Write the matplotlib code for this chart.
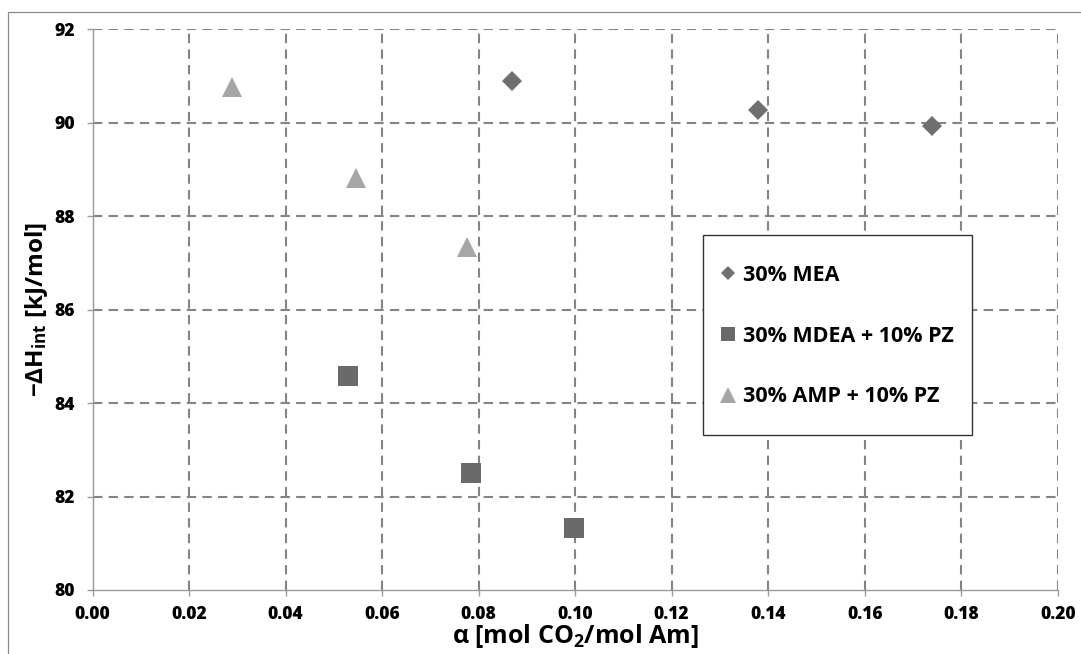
import matplotlib
matplotlib.use('Agg')
import matplotlib.pyplot as plt
from matplotlib.patches import Rectangle
from matplotlib.lines import Line2D

# data
mea_x = [0.087, 0.138, 0.174]
mea_y = [90.90, 90.27, 89.93]
mdea_x = [0.053, 0.0785, 0.0997]
mdea_y = [84.57, 82.50, 81.32]
amp_x = [0.029, 0.0545, 0.0775]
amp_y = [90.76, 88.81, 87.35]

labels = ["30% MEA", "30% MDEA + 10% PZ", "30% AMP + 10% PZ"]
x_ticks = [0.00, 0.02, 0.04, 0.06, 0.08, 0.10, 0.12, 0.14, 0.16, 0.18, 0.20]
y_ticks = [80, 82, 84, 86, 88, 90, 92]

COLORS = {"mea": "#6f6f6f", "mdea": "#6a6a6a", "amp": "#a6a6a6"}
GRID = "#848484"
AXIS = "#9a9a9a"

plt.rcParams['font.family'] = ['Open Sans', 'DejaVu Sans']
plt.rcParams['font.weight'] = 'bold'
plt.rcParams['mathtext.fontset'] = 'custom'
plt.rcParams['mathtext.rm'] = 'Open Sans:bold'
plt.rcParams['mathtext.it'] = 'Open Sans:bold'
plt.rcParams['mathtext.bf'] = 'Open Sans:bold'

W, H = 1081, 654
fig = plt.figure(figsize=(W / 100, H / 100), dpi=100)
fig.patch.set_facecolor("white")

# outer chart frame (only left/top visible in the crop)
fig.patches.append(Rectangle((8.3 / W, -0.1), 1.2, 1 - 12.3 / H + 0.1,
                             transform=fig.transFigure, fill=False,
                             edgecolor="#8a8a8a", linewidth=0.9))

ax = fig.add_axes([92.5 / W, 1 - 590 / H, (1057.7 - 92.5) / W, (590 - 29.3) / H])
ax.set_xlim(0, 0.20)
ax.set_ylim(80, 92)

# dashed grid from tick positions
for yv in y_ticks[1:]:
    ax.axhline(yv, color=GRID, linewidth=1.5, dashes=(4.5, 3), zorder=1)
for xv in x_ticks[1:]:
    ax.axvline(xv, color=GRID, linewidth=1.5, dashes=(4.5, 3), zorder=1)

ax.plot(mea_x, mea_y, linestyle="none", marker="D", markersize=9.8,
        color=COLORS["mea"], markeredgewidth=0, zorder=3)
ax.plot(mdea_x, mdea_y, linestyle="none", marker="s", markersize=14.2,
        color=COLORS["mdea"], markeredgewidth=0, zorder=3)
ax.plot(amp_x, amp_y, linestyle="none", marker="^", markersize=14.4,
        color=COLORS["amp"], markeredgewidth=0, zorder=3)

for side in ("top", "right"):
    ax.spines[side].set_visible(False)
for side in ("left", "bottom"):
    ax.spines[side].set_color(AXIS)
    ax.spines[side].set_linewidth(1.0)
    ax.spines[side].set_zorder(2)

ax.set_xticks(x_ticks)
ax.set_yticks(y_ticks)
ax.set_xticklabels([f"{v:.2f}" for v in x_ticks])
ax.set_yticklabels([str(v) for v in y_ticks])
ax.tick_params(axis="both", direction="out", length=4.5, width=1.0,
               color=AXIS, labelsize=12.5, labelcolor="black")
ax.tick_params(axis="x", pad=7)
ax.tick_params(axis="y", pad=8)
for lab in ax.get_xticklabels() + ax.get_yticklabels():
    lab.set_fontweight(800)

ax.set_xlabel(r"α [mol CO$_{\rm 2}$/mol Am]", fontsize=18, fontweight="bold", labelpad=0)
ax.set_ylabel(r"−ΔH$_{\rm int}$ [kJ/mol]", fontsize=17.5, fontweight="bold", labelpad=3)

# legend box
fig.patches.append(Rectangle((703.3 / W, 1 - 435 / H), (971.7 - 703.3) / W, (435 - 235) / H,
                             transform=fig.transFigure, facecolor="white",
                             edgecolor="#333333", linewidth=1.0, zorder=4))
handles = [
    Line2D([], [], linestyle="none", marker="D", markersize=7.2, color=COLORS["mea"], markeredgewidth=0),
    Line2D([], [], linestyle="none", marker="s", markersize=10.5, color=COLORS["mdea"], markeredgewidth=0),
    Line2D([], [], linestyle="none", marker="^", markersize=11, color=COLORS["amp"], markeredgewidth=0),
]
leg = fig.legend(handles=handles, labels=labels, loc="center left",
                 bbox_to_anchor=(718 / W, 1 - 336 / H), frameon=False,
                 prop={"size": 15.5, "weight": "bold"},
                 handlelength=0.9, handletextpad=0.28,
                 labelspacing=1.85, borderpad=0, borderaxespad=0)
leg.set_zorder(5)

fig.savefig("out.png", dpi=100, facecolor="white")
